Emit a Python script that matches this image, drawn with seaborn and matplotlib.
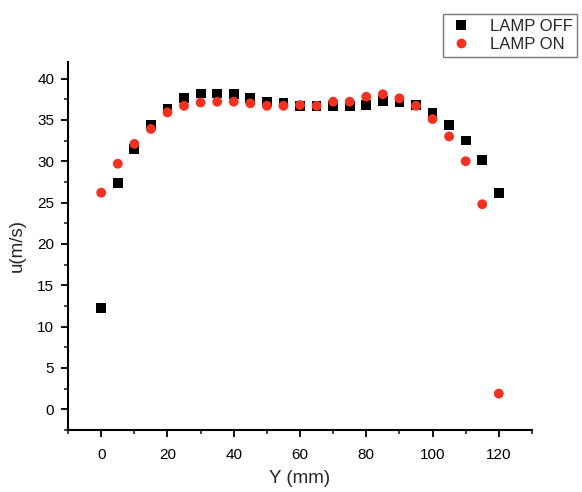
import numpy as np
import pandas as pd
import matplotlib
matplotlib.use("Agg")
import matplotlib.pyplot as plt
import seaborn as sns
from matplotlib.ticker import MultipleLocator

y_mm = [0, 5, 10, 15, 20, 25, 30, 35, 40, 45, 50, 55, 60, 65, 70, 75, 80, 85, 90, 95, 100, 105, 110, 115, 120]
lamp_off = [12.3, 27.4, 31.5, 34.4, 36.3, 37.6, 38.2, 38.2, 38.1, 37.6, 37.2, 37.1, 36.7, 36.7, 36.7, 36.7, 36.8, 37.3, 37.2, 36.8, 35.9, 34.4, 32.5, 30.1, 26.2]
lamp_on = [26.2, 29.7, 32.1, 33.9, 35.9, 36.7, 37.1, 37.2, 37.2, 37.0, 36.7, 36.7, 36.8, 36.7, 37.2, 37.2, 37.8, 38.1, 37.6, 36.7, 35.1, 33.0, 30.0, 24.8, 1.9]
series = ["LAMP OFF", "LAMP ON"]

df = pd.DataFrame({
    "Y": y_mm * 2,
    "u": lamp_off + lamp_on,
    "series": [series[0]] * len(y_mm) + [series[1]] * len(y_mm),
})

sns.set_style("ticks")
plt.rcParams["font.family"] = ["Liberation Sans", "DejaVu Sans"]

fig = plt.figure(figsize=(5.82, 4.92), dpi=100)
ax = fig.add_axes([0.117, 0.126, 0.797, 0.748])

sns.scatterplot(data=df, x="Y", y="u", hue="series", style="series",
                palette={"LAMP OFF": "#000000", "LAMP ON": "#f23220"},
                markers={"LAMP OFF": "s", "LAMP ON": "o"},
                s=50, linewidth=0, ax=ax, legend=True)

ax.set_xlim(-10, 130)
ax.set_ylim(-2.5, 42)
ax.xaxis.set_major_locator(MultipleLocator(20))
ax.xaxis.set_minor_locator(MultipleLocator(10))
ax.yaxis.set_major_locator(MultipleLocator(5))
ax.yaxis.set_minor_locator(MultipleLocator(2.5))
ax.tick_params(which="major", direction="out", length=5, width=1.3, labelsize=11, colors="black")
ax.tick_params(axis="x", which="major", pad=8)
ax.tick_params(axis="y", which="major", pad=5)
ax.tick_params(which="minor", direction="out", length=3, width=1.2)
for s in ["left", "bottom"]:
    ax.spines[s].set_linewidth(1.5)
    ax.spines[s].set_color("black")
sns.despine(ax=ax)
ax.set_xlabel("Y (mm)", fontsize=13.5, labelpad=6)
ax.set_ylabel("u(m/s)", fontsize=13.5, labelpad=8)

handles, labels = ax.get_legend_handles_labels()
ax.legend_.remove()
leg = fig.legend(handles, labels, loc="upper left", bbox_to_anchor=(0.761, 0.972),
                 bbox_transform=fig.transFigure, fontsize=12, frameon=True,
                 fancybox=False, edgecolor="#555555", handletextpad=0.9,
                 borderpad=0.3, labelspacing=0.2, handlelength=1.6, borderaxespad=0)
leg.get_frame().set_linewidth(1.0)

fig.savefig("out.png", dpi=100)
